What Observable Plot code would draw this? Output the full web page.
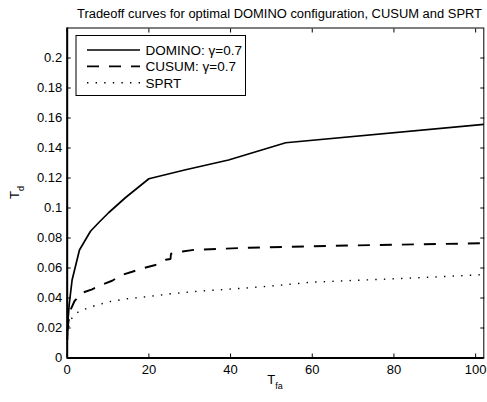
<!DOCTYPE html>
<html>
<head>
<meta charset="utf-8">
<script src="https://cdn.jsdelivr.net/npm/d3@7"></script>
<script src="https://cdn.jsdelivr.net/npm/@observablehq/plot@0.6"></script>
<style>
  body { margin: 0; background: #fff; }
  #chart { width: 487px; height: 402px; }
  #chart svg { font-family: "Liberation Sans", Arial, Helvetica, sans-serif; }
</style>
</head>
<body>
<div id="chart"></div>
<script>
// Tradeoff curves: detection delay T_d against false-alarm time T_fa
const chartTitle = "Tradeoff curves for optimal DOMINO configuration, CUSUM and SPRT";
const seriesNames = ["DOMINO: γ=0.7", "CUSUM: γ=0.7", "SPRT"];

const dominoTfa = [0.05, 0.2, 0.5, 1.2, 3, 5.7, 7.8, 10.2, 14.3, 20, 29, 39.5, 53.5, 102];
const dominoTd  = [0.012, 0.025, 0.036, 0.052, 0.072, 0.0845, 0.0905, 0.097, 0.107, 0.1195, 0.1255, 0.132, 0.1435, 0.1557];

const cusumTfa = [0.05, 0.3, 0.8, 1.8, 3.7, 6.1, 8.6, 11, 13.5, 15.9, 18.8, 21.6, 24.1, 25.3, 25.4, 28.2, 31, 44.5, 68.6, 102];
const cusumTd  = [0.018, 0.024, 0.032, 0.038, 0.0435, 0.0458, 0.049, 0.0515, 0.0555, 0.0575, 0.060, 0.062, 0.0655, 0.066, 0.0695, 0.071, 0.0721, 0.0735, 0.075, 0.0765];

const sprtTfa = [0.05, 0.4, 1, 1.5, 2.8, 4.9, 6.9, 10.6, 14.7, 20, 25.3, 32, 43, 50, 59.6, 70, 80, 90, 102];
const sprtTd  = [0.015, 0.021, 0.026, 0.0277, 0.031, 0.0332, 0.035, 0.0377, 0.0395, 0.041, 0.0428, 0.0445, 0.0465, 0.048, 0.0505, 0.0517, 0.0528, 0.054, 0.0556];

const xTicks = [0, 20, 40, 60, 80, 100];
const yTicks = [0, 0.02, 0.04, 0.06, 0.08, 0.1, 0.12, 0.14, 0.16, 0.18, 0.2];
const xDomain = [0, 102];
const yDomain = [0, 0.22];

// line styles per series: solid, dashed, dotted
const lineStyles = [
  {strokeWidth: 1.7, dash: null},
  {strokeWidth: 1.9, dash: "12,10"},
  {strokeWidth: 1.4, dash: "1.4,7.2"}
];

const toRows = (xs, ys, name) => xs.map((x, i) => ({tfa: x, td: ys[i], series: name}));
const seriesRows = [
  toRows(dominoTfa, dominoTd, seriesNames[0]),
  toRows(cusumTfa, cusumTd, seriesNames[1]),
  toRows(sprtTfa, sprtTd, seriesNames[2])
];

const fmtY = d => String(+d.toFixed(2));
const blank = () => "";

const chart = Plot.plot({
  width: 487,
  height: 402,
  marginLeft: 66.7,
  marginRight: 3.7,
  marginTop: 27.5,
  marginBottom: 44.5,
  style: {fontSize: "13px", color: "black", background: "white", overflow: "visible"},
  x: {domain: xDomain, ticks: xTicks, label: null},
  y: {domain: yDomain, ticks: yTicks, label: null},
  marks: [
    ...seriesRows.map((rows, i) => Plot.line(rows, {
      x: "tfa", y: "td", stroke: "black",
      strokeWidth: lineStyles[i].strokeWidth,
      strokeDasharray: lineStyles[i].dash,
      strokeLinejoin: "miter", strokeLinecap: "butt"
    })),
    Plot.frame({stroke: "black", strokeWidth: 1}),
    Plot.ruleX([xDomain[0]], {stroke: "black", strokeWidth: 2}),
    Plot.ruleY([yDomain[0]], {stroke: "black", strokeWidth: 2}),
    // inward ticks on all four sides
    Plot.axisX(xTicks, {anchor: "bottom", tickSize: -4, tickFormat: blank}),
    Plot.axisX(xTicks, {anchor: "top", tickSize: -4, tickFormat: blank}),
    Plot.axisY(yTicks, {anchor: "left", tickSize: -4, tickFormat: blank}),
    Plot.axisY(yTicks, {anchor: "right", tickSize: -4, tickFormat: blank}),
    // tick labels
    Plot.axisX(xTicks, {anchor: "bottom", tickSize: 0, tickPadding: 7, label: null}),
    Plot.axisY(yTicks, {anchor: "left", tickSize: 0, tickPadding: 5, tickFormat: fmtY, label: null})
  ]
});

document.getElementById("chart").appendChild(chart);

const svg = d3.select(chart);
const plotLeft = 66.7, plotRight = 487 - 3.7, plotTop = 27.5, plotBottom = 402 - 44.5;

// title, stretched to the wide face of the original typesetting
svg.append("text")
  .attr("x", 279.5).attr("y", 17.5)
  .attr("text-anchor", "middle")
  .attr("font-size", 12.5)
  .attr("textLength", 405)
  .attr("lengthAdjust", "spacingAndGlyphs")
  .attr("fill", "black")
  .text(chartTitle);

// x-axis label T_fa
const xl = svg.append("text")
  .attr("x", (plotLeft + plotRight) / 2).attr("y", 384)
  .attr("text-anchor", "middle").attr("font-size", 13).attr("fill", "black");
xl.append("tspan").text("T");
xl.append("tspan").attr("dy", 5).attr("font-size", 9).text("fa");

// y-axis label T_d
const yl = svg.append("text")
  .attr("transform", `translate(19,${(plotTop + plotBottom) / 2}) rotate(-90)`)
  .attr("text-anchor", "middle").attr("font-size", 13).attr("fill", "black");
yl.append("tspan").text("T");
yl.append("tspan").attr("dy", 5).attr("font-size", 9).text("d");

// legend box
const legend = svg.append("g");
legend.append("rect")
  .attr("x", 76).attr("y", 35.5).attr("width", 169.5).attr("height", 60)
  .attr("fill", "white").attr("stroke", "black").attr("stroke-width", 1);
seriesNames.forEach((name, i) => {
  const cy = 50 + i * 16.4;
  legend.append("line")
    .attr("x1", 87).attr("x2", 140).attr("y1", cy).attr("y2", cy)
    .attr("stroke", "black")
    .attr("stroke-width", lineStyles[i].strokeWidth)
    .attr("stroke-dasharray", lineStyles[i].dash);
  legend.append("text")
    .attr("x", 145.5).attr("y", cy).attr("dy", "0.36em")
    .attr("text-anchor", "start")
    .attr("font-size", 13.5).attr("fill", "black")
    .text(name);
});
</script>
</body>
</html>
